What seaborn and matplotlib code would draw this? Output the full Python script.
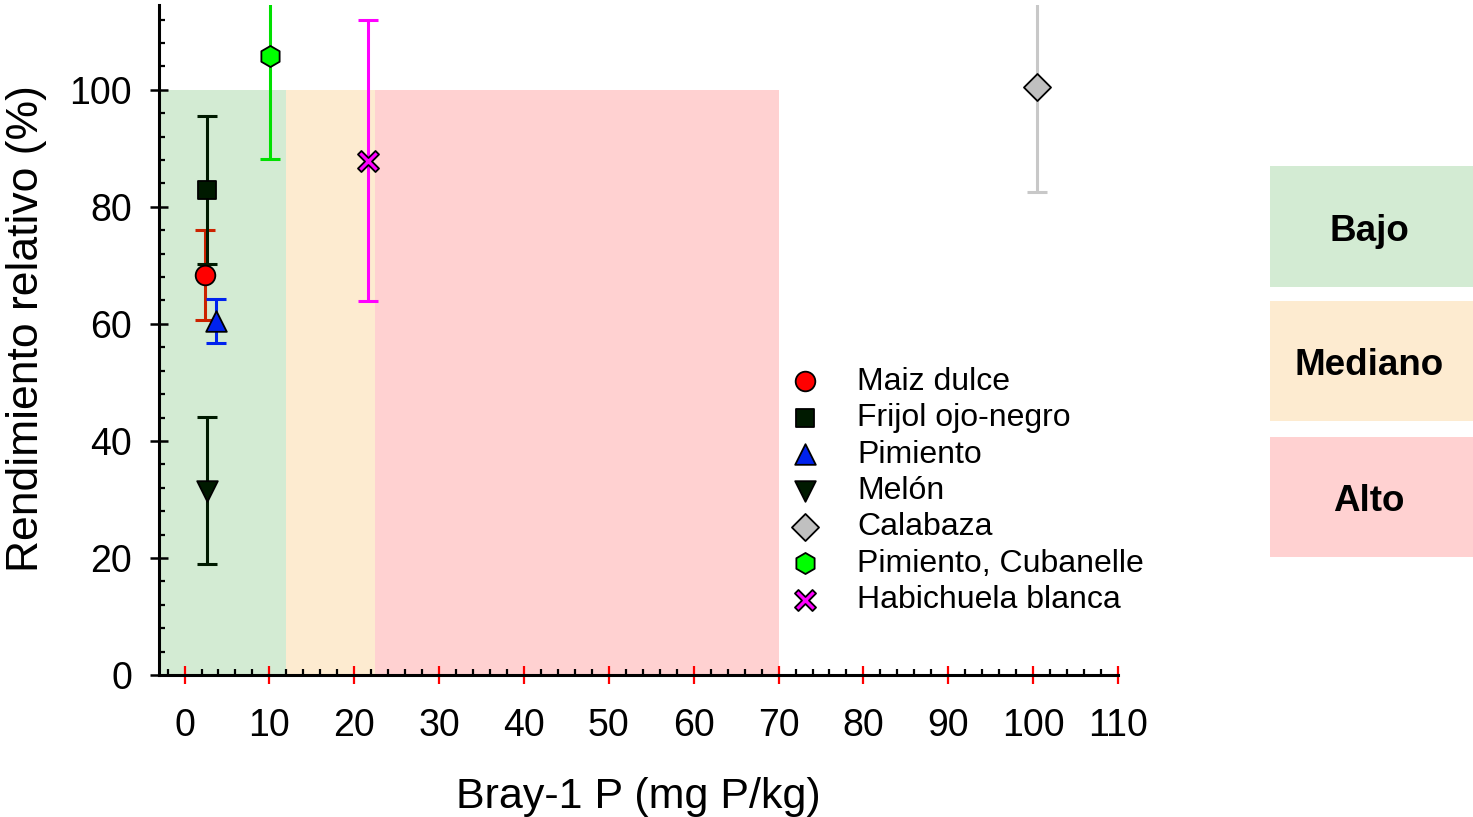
import matplotlib
matplotlib.use("Agg")
import matplotlib.pyplot as plt
from matplotlib.patches import Rectangle
from matplotlib.path import Path
from matplotlib.markers import MarkerStyle
from matplotlib.transforms import Affine2D
from matplotlib.ticker import MultipleLocator
import seaborn as sns
import pandas as pd

# Crop series: Bray-1 P (mg P/kg), relative yield (%), error (+/-)
cultivos = ["Maiz dulce", "Frijol ojo-negro", "Pimiento", "Melón",
            "Calabaza", "Pimiento, Cubanelle", "Habichuela blanca"]
bray_p = [2.4, 2.6, 3.7, 2.7, 100.5, 10.1, 21.6]
rendimiento = [68.4, 82.9, 60.5, 31.5, 100.4, 105.7, 87.9]
error = [7.7, 12.6, 3.8, 12.6, 17.8, 17.6, 24.0]

# Sufficiency classes along the P axis
clases = ["Bajo", "Mediano", "Alto"]
limites_clase = [(-5, 12.0), (12.0, 22.5), (22.5, 70.0)]
colores_clase = ["#d3ebd3", "#fdebd0", "#ffd1d1"]

df = pd.DataFrame({"cultivo": cultivos, "P": bray_p,
                   "rend": rendimiento, "err": error})

# thin-armed cross marker
a = 0.2
cruz = [(-a, 1), (a, 1), (a, a), (1, a), (1, -a), (a, -a), (a, -1),
        (-a, -1), (-a, -a), (-1, -a), (-1, a), (-a, a), (-a, 1)]
cruz_path = Affine2D().rotate_deg(45).transform_path(
    Path(cruz, closed=True))
marca_x = MarkerStyle(cruz_path)

estilos = {
    "Maiz dulce": dict(marker="o", face="#ff0000", bar="#cc2200", s=200),
    "Frijol ojo-negro": dict(marker="s", face="#001a00", bar="#001a00", s=170),
    "Pimiento": dict(marker="^", face="#0022ee", bar="#0022ee", s=220),
    "Melón": dict(marker="v", face="#001a00", bar="#001a00", s=220),
    "Calabaza": dict(marker="D", face="#c0c0c0", bar="#c8c8c8", s=190),
    "Pimiento, Cubanelle": dict(marker="h", face="#00ff00", bar="#00e000", s=230),
    "Habichuela blanca": dict(marker=marca_x, face="#ff00ff", bar="#ff00ff", s=230),
}

sns.set_style("ticks")
plt.rcParams["font.family"] = ["Liberation Sans", "DejaVu Sans"]
plt.rcParams["text.color"] = "black"
plt.rcParams["axes.labelcolor"] = "black"
plt.rcParams["xtick.labelcolor"] = "black"
plt.rcParams["ytick.labelcolor"] = "black"

fig = plt.figure(figsize=(14.73, 8.17), dpi=100)
ax = fig.add_axes([0.108, 0.1738, 0.651, 0.8201])

for (x0, x1), c in zip(limites_clase, colores_clase):
    ax.fill_between([x0, x1], 0, 100, color=c, lw=0, zorder=0)

for _, r in df.iterrows():
    st = estilos[r["cultivo"]]
    ax.errorbar(r["P"], r["rend"], yerr=r["err"], fmt="none",
                ecolor=st["bar"], elinewidth=2.2, capsize=7, capthick=2.2,
                zorder=2)

for _, r in df.iterrows():
    st = estilos[r["cultivo"]]
    sns.scatterplot(x=[r["P"]], y=[r["rend"]], marker=st["marker"],
                    s=st["s"], color=st["face"], edgecolor="black",
                    linewidth=1.3, label=r["cultivo"], ax=ax, zorder=3,
                    clip_on=False)

ax.set_xlim(-3, 110)
ax.set_ylim(0, 114.5)
ax.xaxis.set_major_locator(MultipleLocator(10))
ax.xaxis.set_minor_locator(MultipleLocator(2))
ax.yaxis.set_major_locator(MultipleLocator(20))
ax.yaxis.set_minor_locator(MultipleLocator(4))

for side in ["top", "right"]:
    ax.spines[side].set_visible(False)
for side in ["left", "bottom"]:
    ax.spines[side].set_linewidth(2.2)
    ax.spines[side].set_color("black")

ax.tick_params(axis="x", which="major", direction="inout", length=13,
               width=1.6, color="#ff0000", labelsize=27, pad=17)
ax.tick_params(axis="y", which="major", direction="inout", length=13,
               width=1.8, color="black", labelsize=27, pad=13)
ax.tick_params(which="minor", direction="in", length=4.5, width=1.6,
               color="black")

ax.set_xlabel("Bray-1 P (mg P/kg)", fontsize=31, labelpad=24)
ax.set_ylabel("Rendimiento relativo (%)", fontsize=32)
ax.yaxis.set_label_coords(-0.117, 0.517)
ax.set_facecolor("white")

leg = ax.legend(loc="upper left", bbox_to_anchor=(0.64, 0.479),
                frameon=False, fontsize=23, labelspacing=0.2,
                handletextpad=1.05, handlelength=1.2, borderaxespad=0)

# Class boxes on the right
cajas_y = [(0.6487, 0.1481), (0.4847, 0.1469), (0.3182, 0.1469)]
for (y0, h), c, t in zip(cajas_y, colores_clase, clases):
    fig.patches.append(Rectangle((0.8622, y0), 0.1378, h, color=c, lw=0,
                                 transform=fig.transFigure, figure=fig))
    fig.text(0.9295, y0 + h / 2 - 0.006, t, ha="center", va="center",
             fontsize=26.5, fontweight="bold")

fig.savefig("out.png", dpi=100)
